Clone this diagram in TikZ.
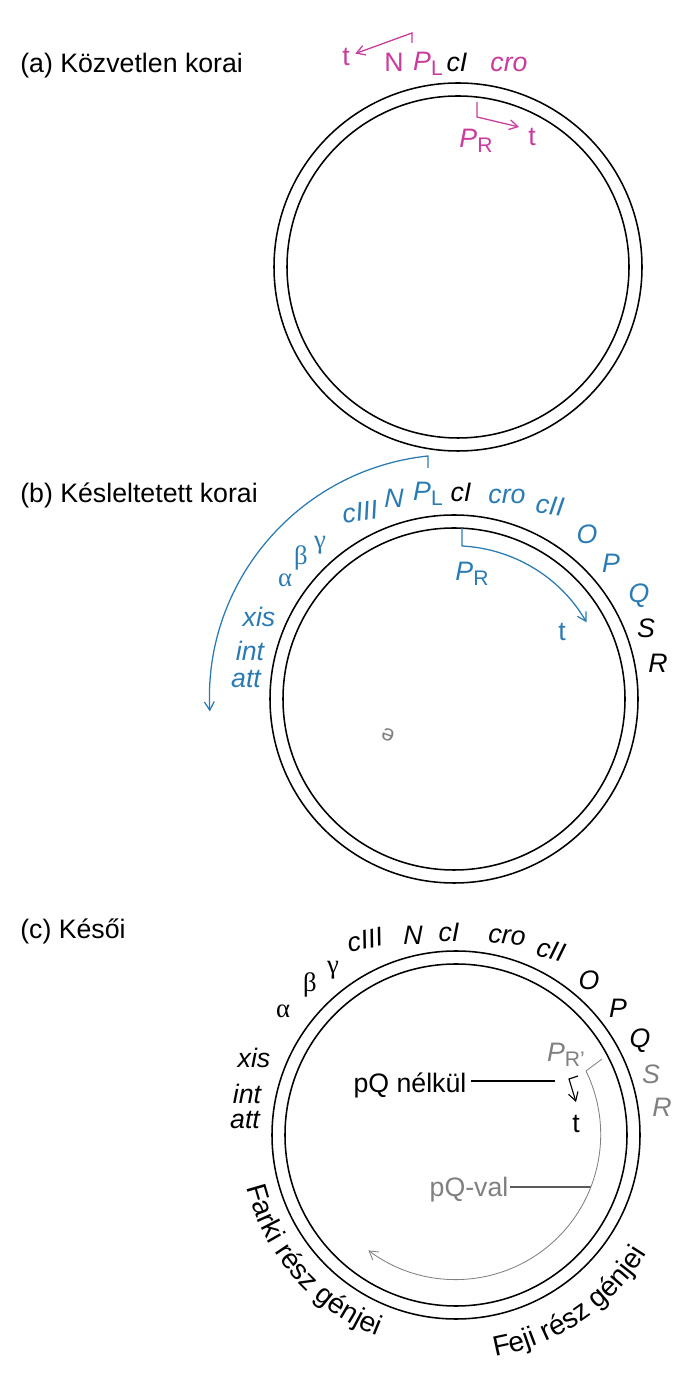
\documentclass[tikz,border=0pt]{standalone}
\usepackage{fontspec}
\setmainfont{Liberation Sans}
\newfontfamily\greekfont{Liberation Serif}
\usetikzlibrary{arrows.meta,decorations.text}
\definecolor{phpink}{HTML}{C93C9C}
\definecolor{phblue}{HTML}{2B7BB3}
\definecolor{phgray}{HTML}{808080}
\newcommand\labsize{\fontsize{19}{21}\selectfont}
\newcommand\prom[2]{\textit{#1}\raisebox{-3.5pt}{\fontsize{15}{16}\selectfont #2}}

\begin{document}
\begin{tikzpicture}[x=0.25mm, y=0.25mm,
    every node/.style={font=\labsize, inner sep=0pt},
    gene/.style={font=\labsize\itshape},
    greek/.style={font=\labsize\greekfont},
    ring/.style={line width=1.1pt},
    tip/.style={-{Straight Barb[length=6pt,width=7pt]}, line width=0.9pt}]
  \useasboundingbox (0,0) rectangle (692,1377);

  % the three rings
  \coordinate (ca) at (458,1110);
  \coordinate (cb) at (454,678);
  \coordinate (cc) at (456,242);
  \foreach \c in {ca,cb,cc}
    \draw[ring] (\c) circle[radius=184] (\c) circle[radius=171];

  % (a)
  \node[anchor=base west] (atitle) at (20,1304) {(a) Közvetlen korai};
  \node[phpink] (at1) at (346,1320) {t};
  \node[phpink] (aN) at (394,1315) {N};
  \node[phpink] (aPL) at (428,1313) {\prom{P}{L}};
  \node[gene] (acI) at (457,1315) {cI};
  \node[gene, phpink] (acro) at (509,1313) {cro};
  \node[phpink] (aPR) at (476,1236) {\prom{P}{R}};
  \node[phpink] (at2) at (532,1240) {t};
  \coordinate (aPLfoot) at (412,1334);
  \coordinate (aPLtop) at (412,1344);
  \draw[tip, phpink, shorten >=4pt] (aPLfoot) -- (aPLtop) -- (at1);
  \coordinate (aPRfoot) at (477,1275);
  \coordinate (aPRbend) at (477,1260);
  \coordinate (aPRend) at (519,1250);
  \draw[tip, phpink] (aPRfoot) -- (aPRbend) -- (aPRend);

  % (b)
  \node[anchor=base west] (btitle) at (20,874) {(b) Késleltetett korai};
  \node[gene, phblue, rotate=8] (bcIII) at (360,865) {cIII};
  \node[gene, phblue] (bN) at (394,879) {N};
  \node[phblue] (bPL) at (428,883) {\prom{P}{L}};
  \node[gene] (bcI) at (461,885) {cI};
  \node[gene, phblue] (bcro) at (507,881) {cro};
  \node[gene, phblue, rotate=-8] (bcII) at (550,871) {cII};
  \node[gene, phblue] (bO) at (587,843) {O};
  \node[gene, phblue] (bP) at (611,814) {P};
  \node[gene, phblue] (bQ) at (639,781) {Q};
  \node[gene] (bS) at (646,749) {S};
  \node[gene] (bR) at (658,714) {R};
  \node[greek, phblue] (bgam) at (320,832) {γ};
  \node[greek, phblue] (bbet) at (301,819) {β};
  \node[greek, phblue] (balp) at (285,797) {α};
  \node[gene, phblue] (bxis) at (259,760) {xis};
  \node[gene, phblue] (bint) at (250,726) {int};
  \node[gene, phblue] (batt) at (246,698) {att};
  \node[phblue] (bPR) at (472,803) {\prom{P}{R}};
  \node[phblue] (bt) at (562,745) {t};
  \node[phgray, rotate=160, font=\fontsize{16}{16}\selectfont] (be) at (388,642) {e};
  \coordinate (bPLfoot) at (428,909);
  \coordinate (bPLtop) at (428,921);
  \draw[tip, phblue] (bPLfoot) -- (bPLtop) arc[start angle=96, end angle=183, radius=244];
  \coordinate (bPRfoot) at (462,849);
  \coordinate (bPRbend) at (462,831);
  \draw[tip, phblue] (bPRfoot) -- (bPRbend) arc[start angle=87, end angle=30, radius=153];

  % (c)
  \node[anchor=base west] (ctitle) at (20,438) {(c) Késői};
  \node[gene, rotate=12] (ccIII) at (365,437) {cIII};
  \node[gene] (cN) at (413,442) {N};
  \node[gene] (ccI) at (449,445) {cI};
  \node[gene, rotate=-5] (ccro) at (507,440) {cro};
  \node[gene, rotate=-15] (ccII) at (551,427) {cII};
  \node[gene] (cO) at (589,397) {O};
  \node[gene] (cP) at (618,369) {P};
  \node[gene] (cQ) at (640,336) {Q};
  \node[gene, phgray] (cS) at (651,303) {S};
  \node[gene, phgray] (cR) at (662,270) {R};
  \node[greek] (cgam) at (333,407) {γ};
  \node[greek] (cbet) at (310,392) {β};
  \node[greek] (calp) at (283,366) {α};
  \node[gene] (cxis) at (254,319) {xis};
  \node[gene] (cint) at (247,283) {int};
  \node[gene] (catt) at (245,257) {att};
  \node[phgray] (cPR) at (566,322) {\prom{P}{R'}};
  \node (ct) at (576,253) {t};
  \node (pqn) at (410,292) {pQ nélkül};
  \node[phgray] (pqv) at (469,187) {pQ-val};
  \coordinate (cpqnend) at (555,296);
  \coordinate (cpqvend) at (591,190);
  \draw[line width=0.8pt, shorten <=3pt] (pqn.east |- cpqnend) -- (cpqnend);
  \draw[line width=0.8pt, phgray!70!black, shorten <=1pt] (pqv.east |- cpqvend) -- (cpqvend);
  \coordinate (cPRa) at (578,301);
  \coordinate (cPRb) at (569,298);
  \coordinate (cPRc) at (576,275);
  \draw[tip, line width=0.8pt] (cPRa) -- (cPRb) -- (cPRc);
  \coordinate (cPRfoot) at (602,318);
  \coordinate (cPRbend) at (586,306);
  \draw[tip, phgray, line width=0.6pt] (cPRfoot) -- (cPRbend) arc[start angle=26, end angle=-127, radius=145];
  \path[decorate, decoration={text along path, text={|\fontsize{20}{22}\selectfont|Farki rész génjei}}]
    (cc) ++(-166:216) arc[start angle=-166, end angle=-95, radius=216];
  \path[decorate, decoration={text along path, text={|\fontsize{20}{22}\selectfont|Feji rész génjei}}]
    (cc) ++(-80:225) arc[start angle=-80, end angle=-20, radius=225];
\end{tikzpicture}
\end{document}
